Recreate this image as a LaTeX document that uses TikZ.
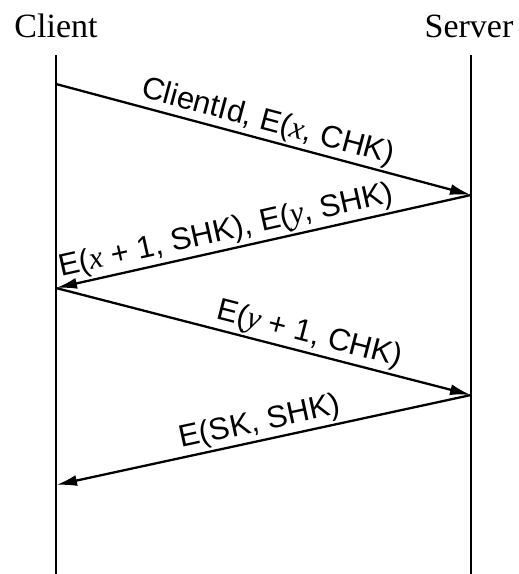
\documentclass[tikz,border=0pt]{standalone}
\usepackage{fontspec}
\setmainfont{Liberation Serif}
\setsansfont{Liberation Sans}
\usetikzlibrary{positioning,arrows.meta,calc}
\newcommand{\vx}[1]{{\rmfamily\itshape #1}}
\tikzset{
  >={Latex[length=21pt,width=11pt]},
  % --- nodes
  hdr/.style  = {font=\fontsize{34}{38}\selectfont, anchor=base, inner sep=0pt},
  lbl/.style  = {font=\sffamily\fontsize{31}{34}\selectfont, sloped, above, inner sep=2pt},
  % --- edges
  life/.style = {line width=2pt},
  msg/.style  = {->, line width=2.3pt},
}

\begin{document}
\begin{tikzpicture}[x=1pt,y=-1pt]
  \useasboundingbox (0,0) rectangle (519,574);

  % the two parties and their lifelines
  \node[hdr] (client) at (56,37) {Client};
  \node[hdr] (server) at (469,37) {Server};
  \coordinate (ctop) at (56,55);  \coordinate (cbot) at (56,574);
  \coordinate (stop) at (471,55); \coordinate (sbot) at (471,574);
  \draw[life] (ctop) -- (cbot);
  \draw[life] (stop) -- (sbot);

  % message end points on the lifelines
  \foreach \n/\y in {c1/84,c2/288,c3/485} \coordinate (\n) at (56,\y);
  \foreach \n/\y in {s1/195,s2/395} \coordinate (\n) at (471,\y);

  % --- messages
  \draw[msg] (c1) -- node[lbl] {ClientId, E(\vx{x}, CHK)} (s1);
  \draw[msg] (s1) -- node[lbl,pos=0.58] {E(\vx{x} + 1, SHK), E(\vx{y}, SHK)} (c2);
  \draw[msg] (c2) -- node[lbl,pos=0.6] {E(\vx{y} + 1, CHK)} (s2);
  \draw[msg] (s2) -- node[lbl] {E(SK, SHK)} (c3);
\end{tikzpicture}
\end{document}
